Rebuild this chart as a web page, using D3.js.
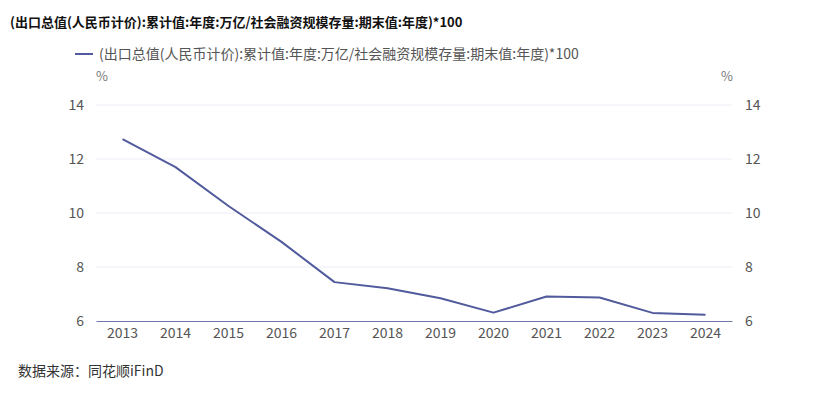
<!DOCTYPE html>
<html>
<head>
<meta charset="utf-8">
<script src="https://cdn.jsdelivr.net/npm/d3@7"></script>
<style>
  body { margin: 0; background: #fff; }
  svg { font-family: "Noto Sans CJK SC", "Noto Sans", sans-serif; }
</style>
</head>
<body>
<script>
var years = ["2013", "2014", "2015", "2016", "2017", "2018", "2019", "2020", "2021", "2022", "2023", "2024"];
var ratio = [12.74, 11.70, 10.26, 8.93, 7.44, 7.21, 6.84, 6.31, 6.91, 6.87, 6.30, 6.23];
var yTicks = [6, 8, 10, 12, 14];
var seriesName = "(出口总值(人民币计价):累计值:年度:万亿/社会融资规模存量:期末值:年度)*100";

var W = 830, H = 398;
var plotL = 96, plotR = 732, plotT = 105, plotB = 321;
var lineColor = "#515a9c";

var svg = d3.select("body").append("svg").attr("width", W).attr("height", H);

var x = d3.scaleBand().domain(years).range([plotL, plotR]);
var y = d3.scaleLinear().domain([6, 14]).range([plotB, plotT]);

// title
svg.append("text").attr("x", 10).attr("y", 27)
  .attr("font-size", 13).attr("font-weight", "bold").attr("fill", "#111")
  .text(seriesName);

// legend
svg.append("line").attr("x1", 75).attr("x2", 93).attr("y1", 54).attr("y2", 54)
  .attr("stroke", lineColor).attr("stroke-width", 2);
svg.append("text").attr("x", 99).attr("y", 59)
  .attr("font-size", 14).attr("fill", "#555").text(seriesName);

// units
svg.append("text").attr("x", 102).attr("y", 81).attr("text-anchor", "middle")
  .attr("font-size", 13).attr("fill", "#777").text("%");
svg.append("text").attr("x", 727).attr("y", 81).attr("text-anchor", "middle")
  .attr("font-size", 13).attr("fill", "#777").text("%");

// grid
svg.append("g").selectAll("line").data(yTicks.slice(1)).join("line")
  .attr("x1", plotL).attr("x2", plotR)
  .attr("y1", function (d) { return y(d); }).attr("y2", function (d) { return y(d); })
  .attr("stroke", "#eeeef6").attr("stroke-width", 1);

// left axis
var leftAxis = svg.append("g").attr("transform", "translate(" + plotL + ",0)")
  .call(d3.axisLeft(y).tickValues(yTicks).tickSize(0).tickPadding(12));
leftAxis.select(".domain").remove();
leftAxis.selectAll("text").attr("font-size", 14).attr("fill", "#555")
  .attr("font-family", "\"Noto Sans CJK SC\", sans-serif");

// right axis
var rightAxis = svg.append("g").attr("transform", "translate(" + plotR + ",0)")
  .call(d3.axisRight(y).tickValues(yTicks).tickSize(0).tickPadding(13));
rightAxis.select(".domain").remove();
rightAxis.selectAll("text").attr("font-size", 14).attr("fill", "#555")
  .attr("font-family", "\"Noto Sans CJK SC\", sans-serif");

// bottom axis
var xAxis = svg.append("g").attr("transform", "translate(0," + plotB + ")")
  .call(d3.axisBottom(x).tickSize(0).tickPadding(7));
xAxis.select(".domain").attr("stroke", "#6f78ad").attr("stroke-width", 1);
xAxis.selectAll("text").attr("font-size", 14).attr("fill", "#555")
  .attr("font-family", "\"Noto Sans CJK SC\", sans-serif");

// line
var line = d3.line()
  .x(function (d, i) { return x(years[i]) + x.bandwidth() / 2; })
  .y(function (d) { return y(d); });
svg.append("path").datum(ratio).attr("d", line)
  .attr("fill", "none").attr("stroke", lineColor).attr("stroke-width", 2)
  .attr("stroke-linejoin", "round");

// source
svg.append("text").attr("x", 18).attr("y", 376)
  .attr("font-size", 14).attr("fill", "#333").text("数据来源：同花顺iFinD");
</script>
</body>
</html>
